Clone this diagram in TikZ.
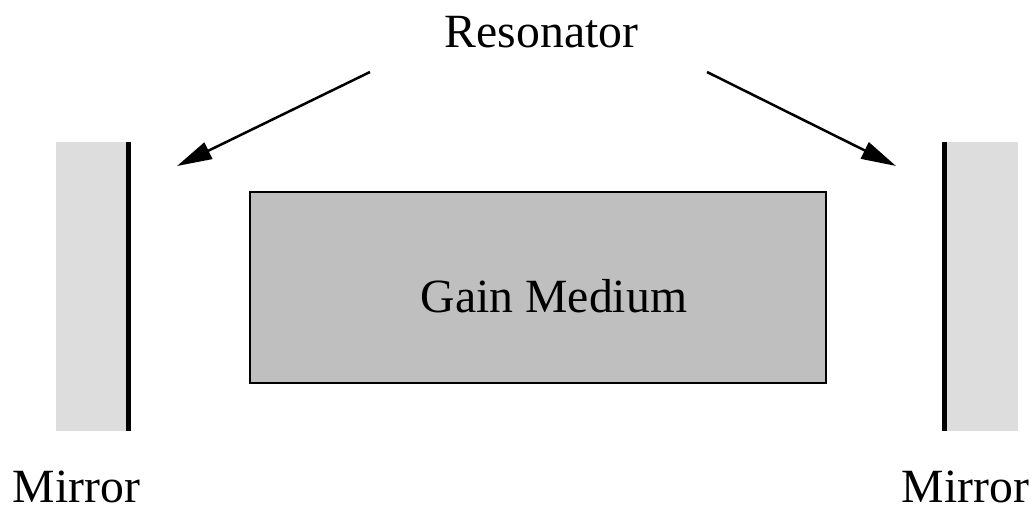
\documentclass[tikz,border=0pt]{standalone}
\usepackage{fontspec}
\setmainfont{Liberation Serif}
\usetikzlibrary{arrows.meta}
\definecolor{mirrorgray}{gray}{0.867}
\definecolor{gaingray}{gray}{0.75}
\tikzset{
  lbl/.style={inner sep=0pt, anchor=base, font=\fontsize{47.7}{57}\selectfont},
  mirrorbody/.style={fill=mirrorgray, draw=none, inner sep=0pt, minimum width=71pt, minimum height=289pt},
  mirrorface/.style={line width=4.5pt},
  gainbox/.style={fill=gaingray, draw=black, line width=2pt, inner sep=0pt, minimum width=576pt, minimum height=191pt},
  pointer/.style={line width=2.5pt, -{Triangle[length=35pt,width=18pt]}}
}
\begin{document}
\begin{tikzpicture}[x=1pt,y=-1pt]
  \useasboundingbox (0,0) rectangle (1034,506);
  % mirrors
  \node[mirrorbody] (mL) at (91,286.5) {};
  \node[mirrorbody] (mR) at (982,286.5) {};
  \draw[mirrorface] (128.5,142) coordinate (mLt) -- (128.5,431) coordinate (mLb);
  \draw[mirrorface] (944.5,142) coordinate (mRt) -- (944.5,431) coordinate (mRb);
  % gain medium
  \node[gainbox] (gain) at (538,287.5) {};
  \node[lbl] (gaintext) at (554,312) {Gain Medium};
  % labels
  \node[lbl] (res) at (541.5,47) {Resonator};
  \node[lbl, text depth=0pt] (mirL) at (76.5,502) {Mirror};
  \node[lbl, text depth=0pt] (mirR) at (965.5,502) {Mirror};
  % arrows
  \coordinate (aLs) at (370,72);
  \coordinate (aLe) at (177,166);
  \coordinate (aRs) at (707,72);
  \coordinate (aRe) at (896,166);
  \draw[pointer] (aLs) -- (aLe);
  \draw[pointer] (aRs) -- (aRe);
\end{tikzpicture}
\end{document}
